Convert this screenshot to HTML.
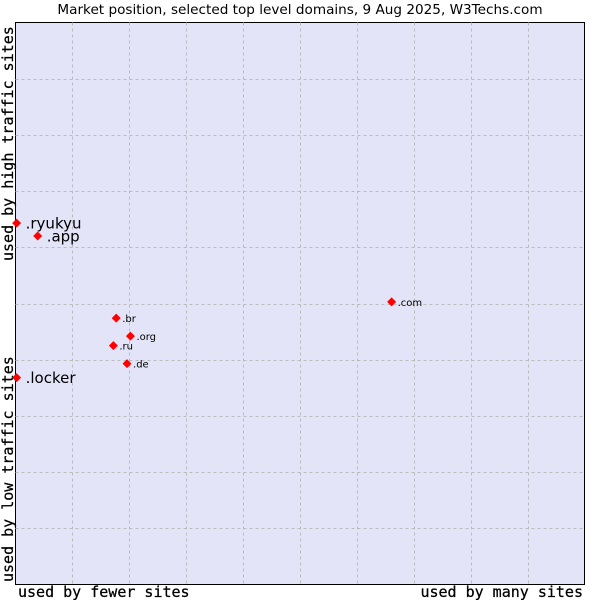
<!DOCTYPE html>
<html><head><meta charset="utf-8"><style>
body{margin:0;background:#fff;width:600px;height:600px;overflow:hidden}
svg{display:block}
.ax{font-family:"DejaVu Sans Mono","Liberation Mono",monospace;font-size:15px;stroke:#000;stroke-width:0.25}
</style></head><body>
<svg id="chart" width="600" height="600" xmlns="http://www.w3.org/2000/svg" font-family="DejaVu Sans, Liberation Sans, sans-serif">
<text x="300" y="14" text-anchor="middle" font-size="13.6" fill="#000">Market position, selected top level domains, 9 Aug 2025, W3Techs.com</text>
<rect x="15.5" y="22.5" width="569" height="562" fill="#e3e4f8" stroke="#000" stroke-width="1"/>
<g id="grid"></g>
<text class="ax" x="18" y="597" fill="#000">used by fewer sites</text>
<text class="ax" x="583" y="597" text-anchor="end" fill="#000">used by many sites</text>
<text class="ax" transform="translate(13,582) rotate(-90)" fill="#000">used by low traffic sites</text>
<text class="ax" transform="translate(13,261) rotate(-90)" fill="#000">used by high traffic sites</text>
<g id="points"></g>
</svg>
<script>
const domains = [".ryukyu", ".app", ".com", ".br", ".org", ".ru", ".de", ".locker"];
const usageValues = [0.2, 3.9, 66.1, 17.7, 20.2, 17.2, 19.6, 0.2];
const trafficValues = [64.3, 62.0, 50.3, 47.4, 44.2, 42.5, 39.3, 36.8];
const labelLarge = [true, true, false, false, false, false, false, true];
const gridSteps = [1,2,3,4,5,6,7,8,9];

const X0 = 15.5, X1 = 584.5, Y0 = 584.5, Y1 = 22.5;
const sx = v => X0 + v / 100 * (X1 - X0);
const sy = v => Y0 - v / 100 * (Y0 - Y1);
const NS = "http://www.w3.org/2000/svg";
const grid = document.getElementById("grid");
gridSteps.forEach(s => {
  const v = document.createElementNS(NS, "line");
  
  
  const x = Math.round(sx(s * 10)) + 0.5;
  v.setAttribute("x1", x); v.setAttribute("x2", x);
  v.setAttribute("y1", Y1); v.setAttribute("y2", Y0);
  v.setAttribute("stroke", "#bbb"); v.setAttribute("stroke-dasharray", "3,3");
  grid.appendChild(v);
  const h = document.createElementNS(NS, "line");
  
  
  const y = Math.round(sy(s * 10)) + 0.5;
  h.setAttribute("y1", y); h.setAttribute("y2", y);
  h.setAttribute("x1", X0); h.setAttribute("x2", X1);
  h.setAttribute("stroke", "#bbb"); h.setAttribute("stroke-dasharray", "3,3");
  grid.appendChild(h);
});
const pts = document.getElementById("points");
domains.forEach((d, i) => {
  const x = sx(usageValues[i]), y = sy(trafficValues[i]);
  const m = document.createElementNS(NS, "path");
  
  
  m.setAttribute("d", `M${x},${y-4.5}L${x+4.5},${y}L${x},${y+4.5}L${x-4.5},${y}Z`);
  m.setAttribute("fill", "#f00");
  pts.appendChild(m);
  const t = document.createElementNS(NS, "text");
  
  
  t.setAttribute("x", x + (labelLarge[i] ? 9 : 6));
  t.setAttribute("y", y + (labelLarge[i] ? 5.5 : 4));
  t.setAttribute("font-size", labelLarge[i] ? 15 : 10);
  t.setAttribute("fill", "#000");
  t.textContent = d;
  pts.appendChild(t);
});
</script>
</body></html>
